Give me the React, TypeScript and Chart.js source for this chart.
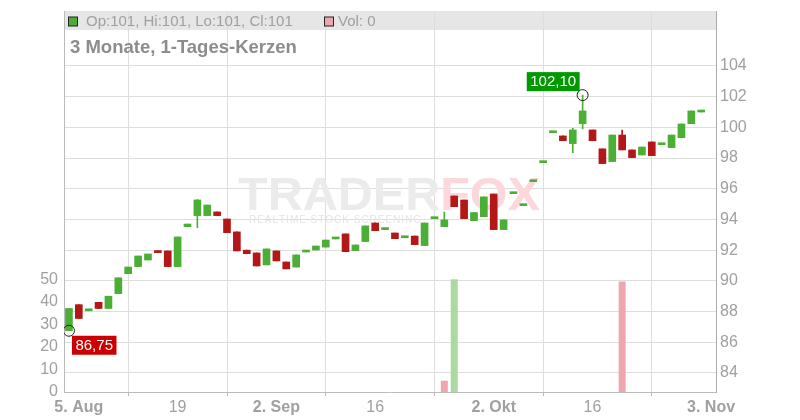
import React, { useEffect, useRef } from "react";
import { Chart, registerables } from "chart.js";

Chart.register(...registerables);

// ---- data (trading days from 2 Aug 2024, index 0) ----
const opens = [
  86.75, 88.45, 88.05, 88.6, 88.2, 89.17, 90.47, 90.93, 91.36, 91.95,
  91.95, 90.93, 93.53, 94.25, 94.25, 94.49, 94.03, 93.19, 92.0, 91.82,
  91.04, 91.95, 91.23, 90.9, 91.88, 92.01, 92.2, 92.73, 93.06, 91.97,
  92.56, 93.77, 93.34, 93.12, 92.81, 92.92, 92.3, 94.05, 93.53, 95.53,
  95.27, 93.92, 94.18, 95.66, 93.34, 95.68, 94.9, 96.46, 97.7, 99.65,
  99.44, 98.94, 100.24, 99.83, 98.6, 97.77, 99.5, 98.53, 98.2, 99.05,
  98.87, 98.68, 99.33, 100.24, 101.0,
];
const highs = [
  88.2, 88.45, 88.15, 88.6, 89.0, 90.2, 90.9, 91.62, 91.75, 91.95,
  91.95, 92.86, 93.7, 95.3, 94.94, 94.49, 94.03, 93.19, 92.0, 91.82,
  92.08, 91.95, 91.23, 91.69, 91.97, 92.27, 92.66, 92.8, 93.06, 92.34,
  93.58, 93.77, 93.38, 93.12, 92.86, 92.92, 93.77, 94.1, 94.49, 95.53,
  95.27, 94.45, 95.47, 95.66, 93.97, 95.73, 94.94, 96.5, 97.75, 99.68,
  99.44, 99.94, 102.1, 99.83, 98.6, 99.5, 99.83, 98.53, 98.72, 99.05,
  98.92, 99.5, 100.22, 101.07, 101.0,
];
const lows = [
  86.75, 87.55, 88.05, 88.2, 88.2, 89.17, 90.47, 90.93, 91.36, 91.84,
  90.93, 90.93, 93.53, 93.47, 94.25, 94.25, 93.14, 91.95, 91.77, 90.97,
  91.04, 91.3, 90.78, 90.9, 91.88, 92.01, 92.2, 92.73, 91.9, 91.97,
  92.56, 93.27, 93.34, 92.75, 92.81, 92.36, 92.3, 94.05, 93.53, 94.83,
  94.05, 93.92, 94.18, 93.34, 93.34, 95.68, 94.9, 96.46, 97.7, 99.65,
  99.13, 98.35, 99.9, 99.13, 97.64, 97.77, 98.53, 98.03, 98.2, 98.16,
  98.87, 98.68, 99.33, 100.24, 101.0,
];
const closes = [
  88.2, 87.55, 88.15, 88.2, 89.0, 90.2, 90.9, 91.62, 91.75, 91.84,
  90.93, 92.86, 93.7, 95.27, 94.94, 94.25, 93.14, 91.95, 91.77, 90.97,
  92.08, 91.3, 90.78, 91.69, 91.97, 92.27, 92.66, 92.8, 91.9, 92.34,
  93.58, 93.27, 93.38, 92.75, 92.86, 92.36, 93.77, 94.1, 93.97, 94.83,
  94.05, 94.45, 95.47, 93.34, 93.97, 95.73, 94.94, 96.5, 97.75, 99.68,
  99.13, 99.83, 101.07, 99.13, 97.64, 99.5, 98.53, 98.03, 98.72, 98.16,
  98.92, 99.5, 100.22, 101.07, 101.0,
];
const volumes = [
  0, 0, 0, 0, 0, 0, 0, 0, 0, 0,
  0, 0, 0, 0, 0, 0, 0, 0, 0, 0,
  0, 0, 0, 0, 0, 0, 0, 0, 0, 0,
  0, 0, 0, 0, 0, 0, 0, 0, 5, 50,
  0, 0, 0, 0, 0, 0, 0, 0, 0, 0,
  0, 0, 0, 0, 0, 0, 49, 0, 0, 0,
  0, 0, 0, 0, 0,
];
const xTickIndices = [1, 11, 21, 31, 43, 53, 65];
const xTickLabels = ["5. Aug", "19", "2. Sep", "16", "2. Okt", "16", "3. Nov"];
const xTickBold = [true, false, true, false, true, false, true];
const priceTicks = [84, 86, 88, 90, 92, 94, 96, 98, 100, 102, 104];
const volumeTicks = [0, 10, 20, 30, 40, 50];
const titleText = "3 Monate, 1-Tages-Kerzen";
const watermarkMain = "TRADER";
const watermarkAccent = "FOX";
const watermarkSub = "REALTIME STOCK SCREENING";

const FONT = "'Liberation Sans', Arial, sans-serif";
const GREEN = "#4aaf34";
const RED = "#b31717";
const VOL_UP = "#a9dba1";
const VOL_DOWN = "#f0a6ae";
const TEXT_GRAY = "#a0a0a0";

export default function App() {
  const ref = useRef<HTMLCanvasElement>(null);

  useEffect(() => {
    document.body.style.margin = "0";
    const canvas = ref.current!;
    Chart.defaults.font.family = FONT;

    const idx = opens.map((_, i) => i);
    const candleColor = idx.map((i) => (closes[i] >= opens[i] ? GREEN : RED));
    const volColor = idx.map((i) =>
      i === 0 || closes[i] >= closes[i - 1] ? VOL_UP : VOL_DOWN
    );
    let loI = 0;
    let hiI = 0;
    idx.forEach((i) => {
      if (lows[i] < lows[loI]) loI = i;
      if (highs[i] > highs[hiI]) hiI = i;
    });
    const fmt = (v: number) => v.toFixed(2).replace(".", ",");
    const last = opens.length - 1;

    const noPad = (scale: any) => {
      scale.paddingTop = 0;
      scale.paddingBottom = 0;
      scale.paddingLeft = 0;
      scale.paddingRight = 0;
    };

    const overlay = {
      id: "overlay",
      beforeDraw(chart: any) {
        const { ctx, chartArea: a } = chart;
        ctx.save();
        ctx.fillStyle = "#e6e6e6";
        ctx.fillRect(a.left, a.top, a.right - a.left, 19);
        ctx.restore();
      },
      beforeDatasetsDraw(chart: any) {
        const { ctx, chartArea: a } = chart;
        const cx = (a.left + a.right) / 2;
        const cy = (a.top + a.bottom) / 2;
        ctx.save();
        ctx.font = `bold 46px ${FONT}`;
        const w1 = ctx.measureText(watermarkMain).width;
        const w2 = ctx.measureText(watermarkAccent).width;
        const total = 302;
        const sx = total / (w1 + w2);
        const x0 = cx - total / 2 - 1;
        const base = cy + 8.5;
        ctx.translate(x0, base);
        ctx.scale(sx, 1);
        ctx.textAlign = "left";
        ctx.textBaseline = "alphabetic";
        ctx.fillStyle = "#ebebeb";
        ctx.fillText(watermarkMain, 0, 0);
        ctx.fillStyle = "#fcd8dc";
        ctx.fillText(watermarkAccent, w1, 0);
        ctx.restore();

        ctx.save();
        ctx.font = `10px ${FONT}`;
        ctx.fillStyle = "#e4e4e4";
        ctx.textBaseline = "alphabetic";
        const chars = watermarkSub.split("");
        const widths = chars.map((c) => ctx.measureText(c).width);
        const sum = widths.reduce((s, w) => s + w, 0);
        const target = 172;
        const gap = (target - sum) / (chars.length - 1);
        let x = x0 + 11;
        chars.forEach((c, k) => {
          ctx.fillText(c, x, base + 13);
          x += widths[k] + gap;
        });
        ctx.restore();
      },
      afterDraw(chart: any) {
        const { ctx, chartArea: a } = chart;
        ctx.save();
        // header legend
        const bandMid = a.top + 10.5;
        ctx.lineWidth = 1;
        ctx.fillStyle = GREEN;
        ctx.fillRect(68.5, bandMid - 4.5, 9, 9);
        ctx.strokeStyle = "#222";
        ctx.strokeRect(68.5, bandMid - 4.5, 9, 9);
        ctx.font = `15px ${FONT}`;
        ctx.fillStyle = TEXT_GRAY;
        ctx.textBaseline = "middle";
        ctx.textAlign = "left";
        ctx.fillText(
          `Op:${opens[last]}, Hi:${highs[last]}, Lo:${lows[last]}, Cl:${closes[last]}`,
          86,
          bandMid
        );
        ctx.fillStyle = VOL_DOWN;
        ctx.fillRect(324.5, bandMid - 4.5, 9, 9);
        ctx.strokeRect(324.5, bandMid - 4.5, 9, 9);
        ctx.fillStyle = TEXT_GRAY;
        ctx.fillText(`Vol: ${volumes[last]}`, 338, bandMid);

        // title
        ctx.font = `bold 18.5px ${FONT}`;
        ctx.fillStyle = "#8c8c8c";
        ctx.fillText(titleText, 70, 48);

        // min / max labels
        const meta = chart.getDatasetMeta(3);
        const pLo = meta.data[0];
        const pHi = meta.data[1];
        ctx.font = `15px ${FONT}`;
        const tLo = fmt(lows[loI]);
        const tHi = fmt(highs[hiI]);
        const wLo = ctx.measureText(tLo).width + 7;
        const wHi = ctx.measureText(tHi).width + 7;
        const h = 19;
        if (pLo) {
          const bx = pLo.x + 3;
          const by = pLo.y + 5;
          ctx.fillStyle = "#cc0000";
          ctx.fillRect(bx, by, wLo, h);
          ctx.fillStyle = "#ffffff";
          ctx.fillText(tLo, bx + 3.5, by + h / 2 + 0.5);
        }
        if (pHi) {
          const bx = pHi.x - 3 - wHi;
          const by = pHi.y - 4 - h;
          ctx.fillStyle = "#009900";
          ctx.fillRect(bx, by, wHi, h);
          ctx.fillStyle = "#ffffff";
          ctx.fillText(tHi, bx + 3.5, by + h / 2 + 0.5);
        }
        ctx.restore();
      },
    };

    const chart = new Chart(canvas, {
      type: "bar",
      data: {
        datasets: [
          {
            type: "bar",
            label: "wick",
            data: idx.map((i) => ({ x: i, y: [lows[i], highs[i]] })) as any,
            backgroundColor: candleColor,
            barThickness: 1,
            grouped: false,
            yAxisID: "y",
            order: 2,
          },
          {
            type: "bar",
            label: "body",
            data: idx.map((i) => ({ x: i, y: [opens[i], closes[i]] })) as any,
            backgroundColor: candleColor,
            barThickness: 7,
            minBarLength: 2,
            grouped: false,
            yAxisID: "y",
            order: 1,
          },
          {
            type: "bar",
            label: "vol",
            data: idx.map((i) => ({ x: i, y: volumes[i] > 0 ? volumes[i] : null })) as any,
            backgroundColor: volColor,
            barThickness: 7,
            inflateAmount: 0,
            grouped: false,
            yAxisID: "yv",
            order: 3,
          },
          {
            type: "scatter",
            label: "marks",
            data: [
              { x: loI, y: lows[loI] },
              { x: hiI, y: highs[hiI] },
            ] as any,
            pointRadius: 5.5,
            pointBorderWidth: 1,
            pointBorderColor: "#222",
            pointBackgroundColor: "rgba(0,0,0,0)",
            yAxisID: "y",
            order: 0,
          } as any,
        ],
      },
      options: {
        responsive: false,
        animation: false,
        events: [],
        layout: { padding: { top: 11, left: 0, right: 0, bottom: 0 } },
        plugins: { legend: { display: false }, tooltip: { enabled: false } },
        scales: {
          x: {
            type: "linear",
            min: -0.5,
            max: 65.5,
            offset: false,
            afterBuildTicks: (scale: any) => {
              scale.ticks = xTickIndices.map((v) => ({ value: v }));
            },
            afterFit: (scale: any) => {
              scale.height = 28;
              noPad(scale);
            },
            grid: {
              color: "#dddddd",
              drawTicks: true,
              tickLength: 4,
              tickColor: "#bbbbbb",
            },
            border: { color: "#bbbbbb" },
            ticks: {
              autoSkip: false,
              maxRotation: 0,
              padding: 2,
              color: TEXT_GRAY,
              font: (c: any) => ({
                size: 16,
                weight: xTickBold[c.index] ? "bold" : "normal",
              }),
              callback: (v: any) => {
                const k = xTickIndices.indexOf(Number(v));
                return k >= 0 ? xTickLabels[k] : "";
              },
            },
          },
          y: {
            type: "linear",
            position: "right",
            min: 82.76,
            max: 107.58,
            afterBuildTicks: (scale: any) => {
              scale.ticks = priceTicks.map((v) => ({ value: v }));
            },
            afterFit: (scale: any) => {
              scale.width = 84;
              noPad(scale);
            },
            grid: { color: "#dddddd", drawTicks: false },
            border: { color: "#aaaaaa" },
            ticks: {
              padding: 4,
              color: TEXT_GRAY,
              font: { size: 16 },
              callback: (v: any) => String(v),
            },
          },
          yv: {
            type: "linear",
            position: "left",
            min: 0,
            max: 169,
            afterBuildTicks: (scale: any) => {
              scale.ticks = volumeTicks.map((v) => ({ value: v }));
            },
            afterFit: (scale: any) => {
              scale.width = 64;
              noPad(scale);
            },
            grid: { display: false, drawTicks: false },
            border: { display: true, color: "#bbbbbb" },
            ticks: {
              padding: 6,
              color: TEXT_GRAY,
              font: { size: 16 },
              callback: (v: any) => String(v),
            },
          },
        },
      } as any,
      plugins: [overlay as any],
    });

    return () => chart.destroy();
  }, []);

  return (
    <div style={{ width: 800, height: 420 }}>
      <canvas ref={ref} width={800} height={420} style={{ display: "block" }} />
    </div>
  );
}
